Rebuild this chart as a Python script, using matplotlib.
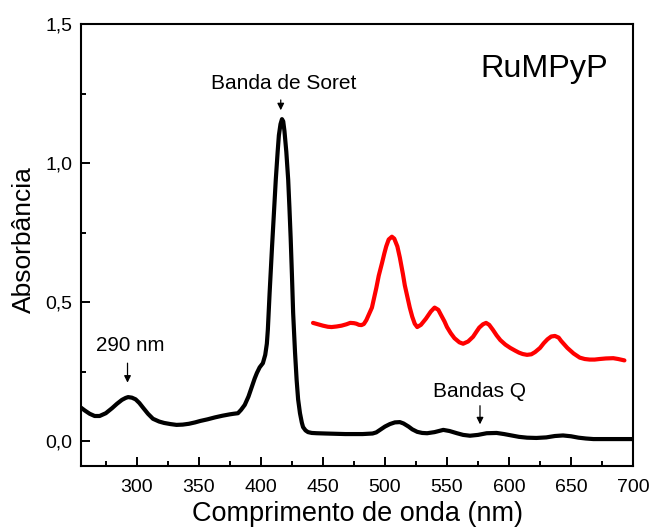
import matplotlib
matplotlib.use("Agg")
import matplotlib.pyplot as plt
from matplotlib.ticker import MultipleLocator, FuncFormatter

plt.rcParams['font.family'] = ['Liberation Sans', 'DejaVu Sans']

# black spectrum (full range)
wl_black = [255, 258, 262, 266, 270, 275, 280, 284, 288, 291, 293, 296, 299, 302, 305,
            309, 313, 318, 322, 327, 332, 337, 342, 347, 351, 357, 363, 369, 375, 378,
            381.5, 384, 387, 390, 392.7, 395, 396.8, 399, 401.6, 403.5, 404.8, 405.6,
            407, 409, 410.5, 412, 413.5, 414.5, 415.8, 417, 418, 419, 420.5, 422, 423,
            424, 425, 426, 427.5, 428.8, 430, 431.5, 433, 434, 436, 438, 441, 445, 452,
            460, 468, 475, 482, 490, 493, 496, 500, 504, 508, 512, 515, 519, 522, 526,
            530, 534, 540, 547, 552, 558, 563, 568.5, 575, 582, 590, 596, 602, 608,
            614.5, 622, 630, 637, 643.5, 650, 656, 662, 668, 676, 685, 692, 700]
abs_black = [0.12, 0.11, 0.098, 0.09, 0.09, 0.1, 0.118, 0.134, 0.148, 0.155, 0.158,
             0.156, 0.15, 0.137, 0.12, 0.098, 0.08, 0.07, 0.065, 0.061, 0.058, 0.059,
             0.062, 0.067, 0.072, 0.078, 0.085, 0.091, 0.096, 0.098, 0.10, 0.112, 0.13,
             0.16, 0.195, 0.225, 0.245, 0.265, 0.28, 0.31, 0.35, 0.40, 0.53, 0.70, 0.82,
             0.94, 1.04, 1.1, 1.14, 1.158, 1.15, 1.115, 1.04, 0.94, 0.84, 0.73, 0.6,
             0.46, 0.32, 0.22, 0.15, 0.10, 0.066, 0.05, 0.038, 0.032, 0.029, 0.028,
             0.027, 0.026, 0.025, 0.025, 0.025, 0.027, 0.031, 0.04, 0.052, 0.061,
             0.067, 0.068, 0.063, 0.052, 0.042, 0.033, 0.029, 0.028, 0.032, 0.04,
             0.036, 0.028, 0.022, 0.019, 0.022, 0.028, 0.029, 0.025, 0.02, 0.015,
             0.012, 0.011, 0.013, 0.018, 0.02, 0.017, 0.012, 0.009, 0.007, 0.007,
             0.007, 0.007, 0.007]

# red spectrum (Q band region, magnified)
wl_red = [442, 446, 450, 454, 457, 461, 465, 469, 472, 475, 477, 479, 481, 483, 485,
          487, 489.5, 491, 493, 495, 497.6, 499.5, 501, 503, 505.6, 507.5, 510, 512,
          514.5, 516, 518, 520, 522, 524, 526, 529, 533, 537, 540, 543, 545, 548, 550,
          553, 556, 560, 563, 567, 571, 574, 576, 579, 581.5, 584, 587, 590, 593, 597,
          601, 605, 608, 611, 614.5, 618, 621, 625, 628, 631, 634, 637, 640, 642, 645,
          647, 652, 657, 661, 665, 669, 673, 678, 684, 688, 693]
abs_red = [0.425, 0.42, 0.415, 0.411, 0.41, 0.412, 0.415, 0.42, 0.425, 0.424, 0.422,
           0.418, 0.417, 0.421, 0.435, 0.455, 0.48, 0.51, 0.55, 0.595, 0.64, 0.675,
           0.70, 0.725, 0.735, 0.728, 0.70, 0.66, 0.60, 0.56, 0.52, 0.48, 0.447, 0.422,
           0.41, 0.418, 0.44, 0.466, 0.48, 0.472, 0.455, 0.43, 0.41, 0.388, 0.37, 0.355,
           0.35, 0.358, 0.375, 0.395, 0.408, 0.42, 0.425, 0.418, 0.40, 0.38, 0.363,
           0.347, 0.335, 0.325, 0.318, 0.313, 0.31, 0.312, 0.32, 0.335, 0.352, 0.366,
           0.376, 0.378, 0.372, 0.36, 0.345, 0.335, 0.315, 0.30, 0.295, 0.293, 0.293,
           0.295, 0.297, 0.298, 0.295, 0.29]

fig = plt.figure(figsize=(6.5, 5.27), dpi=100)
ax = fig.add_axes([0.1246, 0.1157, 0.8494, 0.8386])

ax.plot(wl_black, abs_black, color='black', linewidth=3.0, solid_joinstyle='round',
        solid_capstyle='round')
ax.plot(wl_red, abs_red, color='#ff0000', linewidth=3.0, solid_joinstyle='round',
        solid_capstyle='round')

ax.set_xlim(255, 700)
ax.set_ylim(-0.09, 1.5)

ax.xaxis.set_major_locator(MultipleLocator(50))
ax.xaxis.set_minor_locator(MultipleLocator(25))
ax.yaxis.set_major_locator(MultipleLocator(0.5))
ax.yaxis.set_minor_locator(MultipleLocator(0.25))
ax.yaxis.set_major_formatter(FuncFormatter(lambda v, p: f"{v:.1f}".replace('.', ',')))

ax.tick_params(which='both', direction='in', width=1.4, labelsize=14,
               top=False, right=False)
ax.tick_params(which='major', length=6.5, pad=6)
ax.tick_params(axis='x', which='major', pad=9)
ax.tick_params(which='minor', length=3.6)
for s in ax.spines.values():
    s.set_linewidth(1.5)

ax.set_xlabel('Comprimento de onda (nm)', fontsize=19.5, labelpad=4)
ax.set_ylabel('Absorbância', fontsize=19)
ax.yaxis.set_label_coords(-0.082, 0.512)

ax.text(628, 1.31, 'RuMPyP', fontsize=23.3, ha='center', va='baseline')

arr = dict(arrowstyle='-|>', color='black', lw=0.9, mutation_scale=10)
ax.text(418, 1.266, 'Banda de Soret', fontsize=15, ha='center', va='baseline')
ax.annotate('', xy=(416, 1.18), xytext=(416, 1.237), arrowprops=arr)
ax.text(294.4, 0.324, '290 nm', fontsize=14.8, ha='center', va='baseline')
ax.annotate('', xy=(292.5, 0.2), xytext=(292.5, 0.29), arrowprops=arr)
ax.text(576, 0.159, 'Bandas Q', fontsize=15, ha='center', va='baseline')
ax.annotate('', xy=(576.6, 0.05), xytext=(576.6, 0.137), arrowprops=arr)

fig.savefig('out.png', dpi=100)
